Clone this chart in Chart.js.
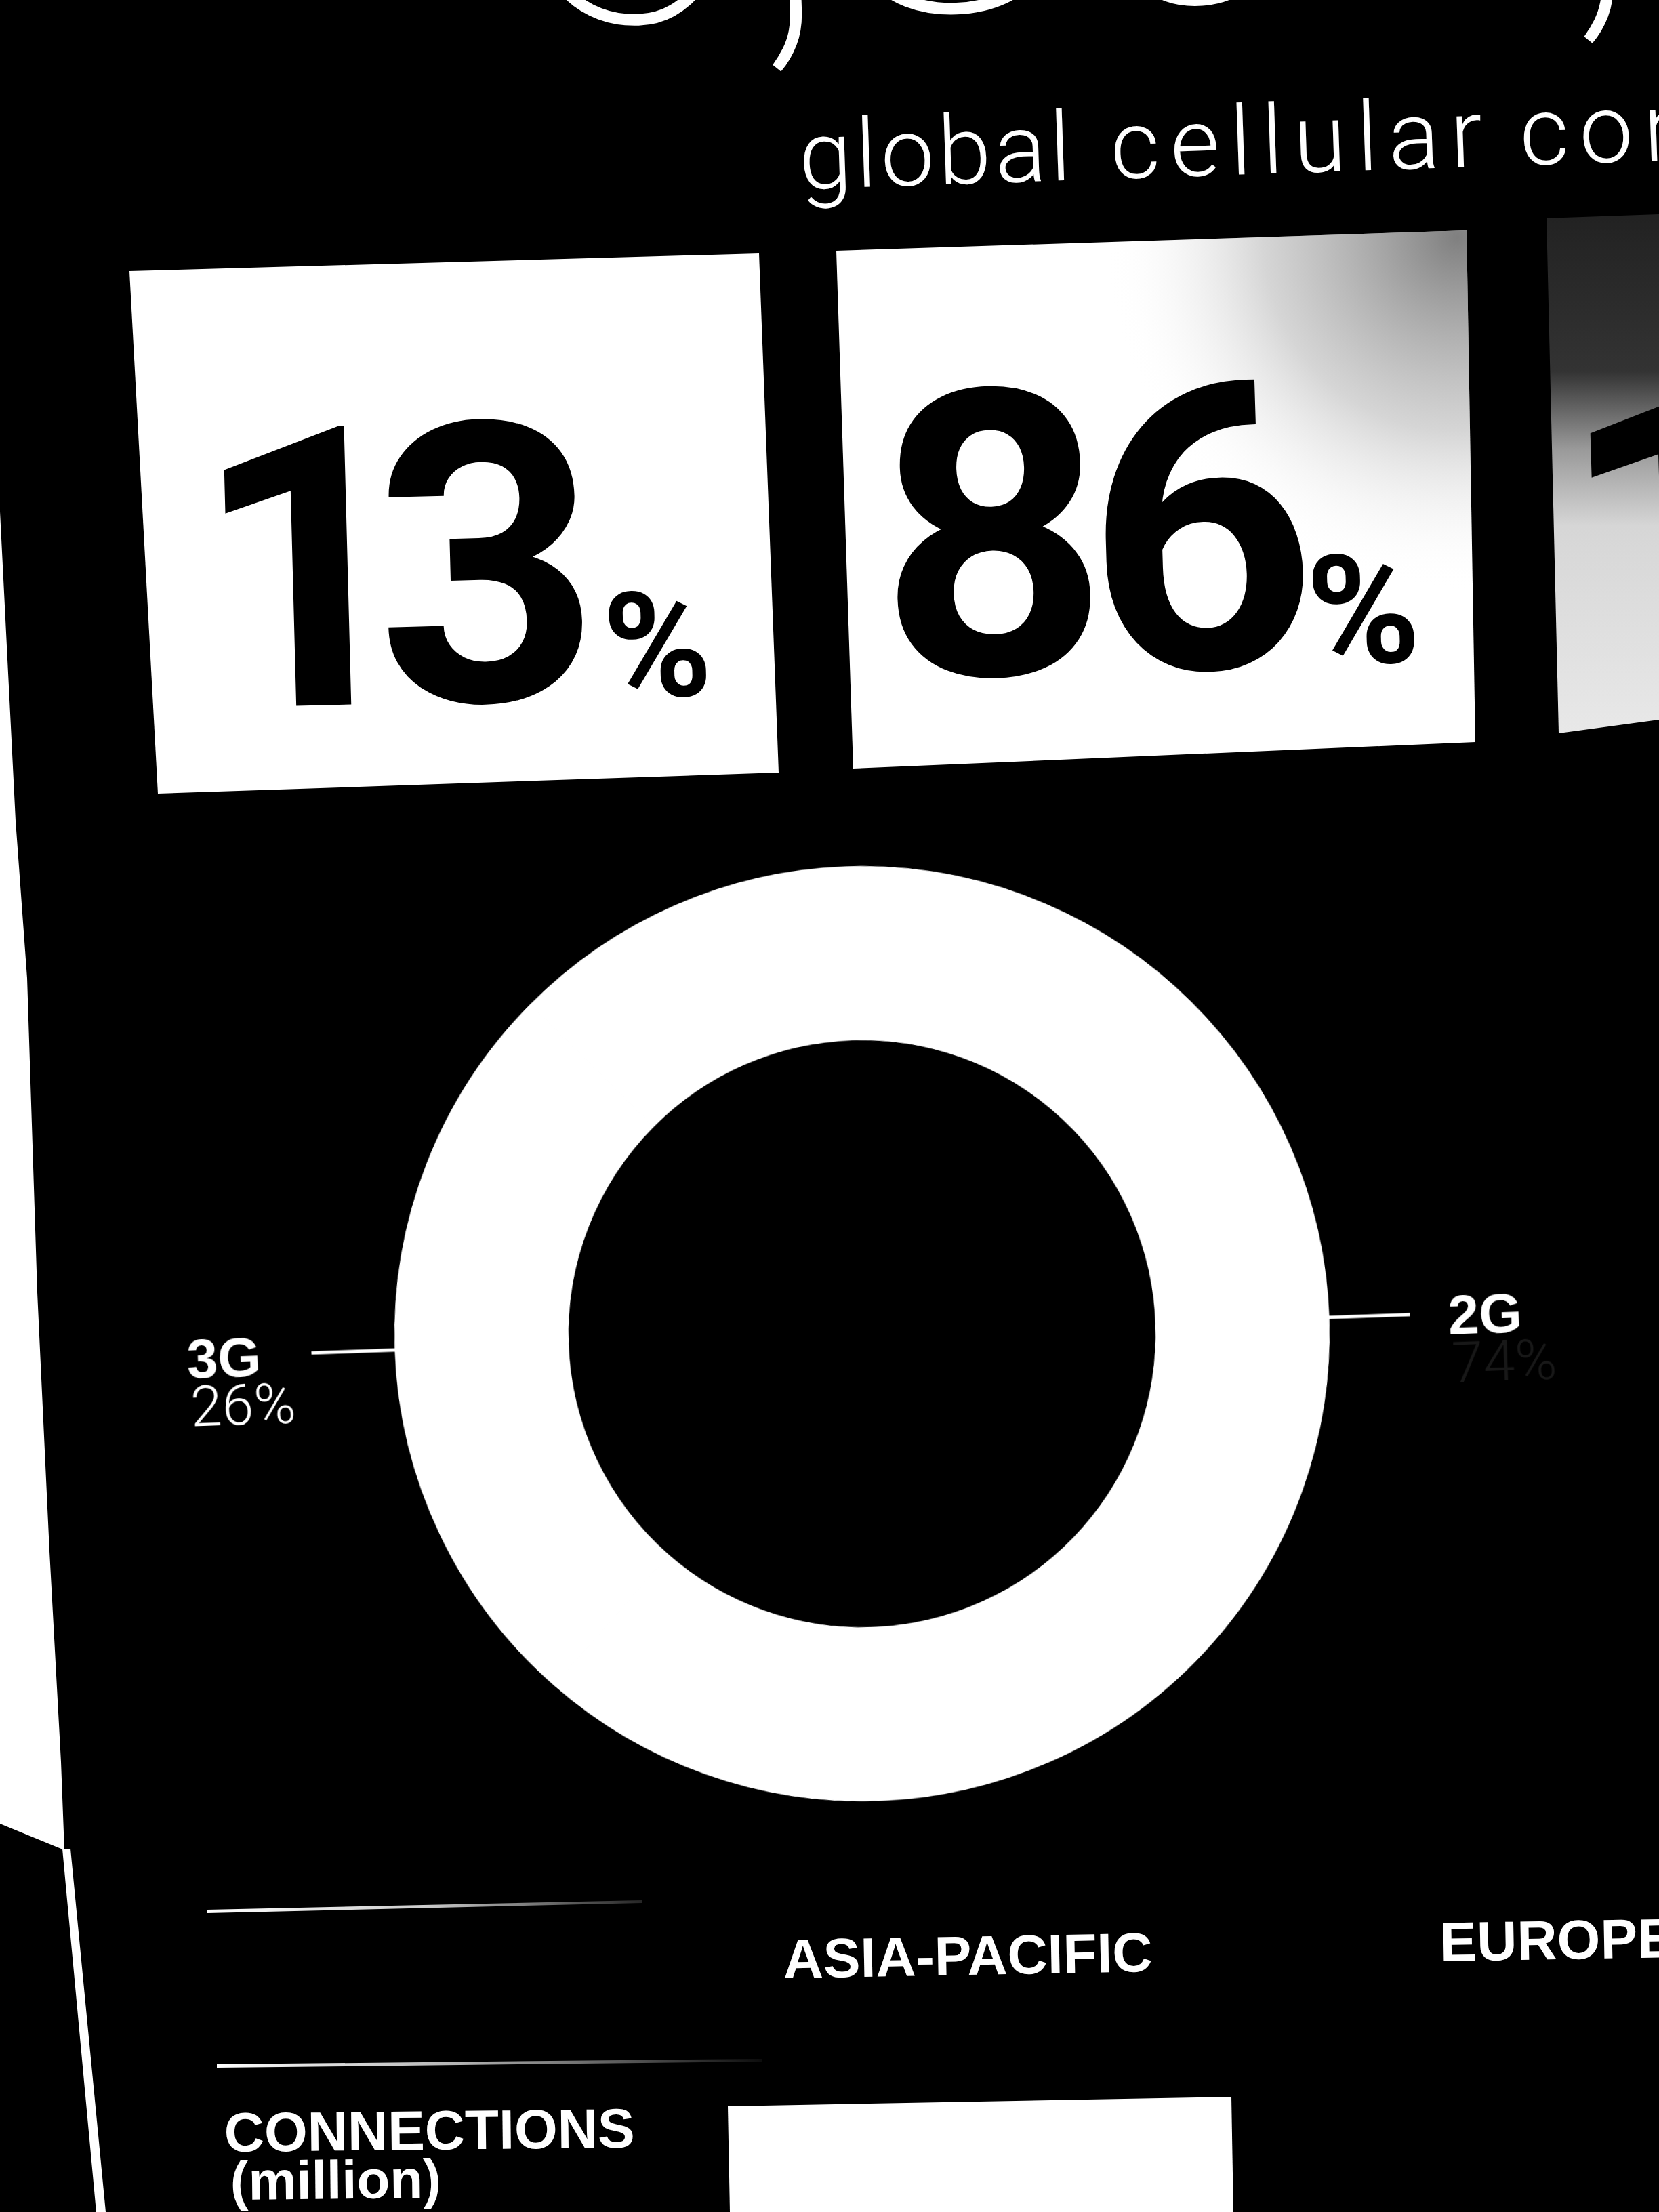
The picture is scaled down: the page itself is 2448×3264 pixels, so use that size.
<!DOCTYPE html>
<html>
<head>
<meta charset="utf-8">
<script src="https://cdn.jsdelivr.net/npm/chart.js@4.4.1/dist/chart.umd.min.js"></script>
<style>
html,body{margin:0;padding:0;background:#000;width:2448px;height:3264px;overflow:hidden}
#art{position:absolute;left:0;top:0}
#wrap{position:absolute;left:0;top:1100px;width:2448px;height:1750px;transform:rotate(-2deg);transform-origin:1272px 868px}
#ring{display:block}
</style>
</head>
<body>
<svg id="art" width="2448" height="3264" viewBox="0 0 2448 3264" xmlns="http://www.w3.org/2000/svg">
  <defs>
    <radialGradient id="glare2" gradientUnits="userSpaceOnUse" cx="2150" cy="350" r="520">
      <stop offset="0" stop-color="#555" stop-opacity="0.75"/>
      <stop offset="0.55" stop-color="#888" stop-opacity="0.35"/>
      <stop offset="1" stop-color="#fff" stop-opacity="0"/>
    </radialGradient>
    <linearGradient id="glare3" gradientUnits="userSpaceOnUse" x1="0" y1="320" x2="0" y2="1080">
      <stop offset="0" stop-color="#222"/>
      <stop offset="0.3" stop-color="#333"/>
      <stop offset="0.45" stop-color="#999"/>
      <stop offset="0.6" stop-color="#d6d6d6"/>
      <stop offset="1" stop-color="#e8e8e8"/>
    </linearGradient>
    <linearGradient id="fade1" gradientUnits="userSpaceOnUse" x1="306" y1="0" x2="947" y2="0">
      <stop offset="0" stop-color="#fff" stop-opacity="1"/>
      <stop offset="0.5" stop-color="#fff" stop-opacity="0.8"/>
      <stop offset="1" stop-color="#fff" stop-opacity="0.15"/>
    </linearGradient>
    <linearGradient id="fade2" gradientUnits="userSpaceOnUse" x1="320" y1="0" x2="1125" y2="0">
      <stop offset="0" stop-color="#fff" stop-opacity="1"/>
      <stop offset="0.45" stop-color="#fff" stop-opacity="0.7"/>
      <stop offset="1" stop-color="#fff" stop-opacity="0.05"/>
    </linearGradient>
  </defs>
  <g id="scene"></g>
</svg>
<div id="wrap"><canvas id="ring" width="2448" height="1750"></canvas></div>
<script>
// ---- data ----
const headline = '6,800,000,000';
const subtitleWords = ['global', 'cellular', 'connections'];
const tileValues = [13, 86, 1];
const tileUnit = '%';
const segLabels = ['3G', '2G'];
const segValues = [26, 74];
const regionLabels = ['ASIA-PACIFIC', 'EUROPE'];
const rowLabels = ['CONNECTIONS', '(million)'];

// ---- layout / styles ----
const NS = 'http://www.w3.org/2000/svg';
const scene = document.getElementById('scene');
const BOLD = "'Liberation Sans', Arial, Helvetica, sans-serif";
const TILE = "Roboto, Inter, 'Open Sans', sans-serif";
const THIN = "Roboto, Lato, Inter, 'Liberation Sans', sans-serif";

function el(tag, attrs, parent) {
  const e = document.createElementNS(NS, tag);
  for (const k in attrs) e.setAttribute(k, attrs[k]);
  (parent || scene).appendChild(e);
  return e;
}
function txt(str, attrs, parent) {
  const t = el('text', attrs, parent);
  t.textContent = str;
  return t;
}
function tspan(parent, str, attrs) {
  const s = document.createElementNS(NS, 'tspan');
  for (const k in attrs) s.setAttribute(k, attrs[k]);
  s.textContent = str;
  parent.appendChild(s);
  return s;
}

// background wall at left edge and poster edge
el('polygon', {points: '0,755 23,1211 40,1443 55,1907 73,2289 90,2600 95,2730 0,2691', fill: '#fff'});
el('polygon', {points: '92,2728 104,2728 156,3264 142,3264', fill: '#fff'});

// headline (cut by the top of the frame)
txt(headline, {x: 750, y: 38, 'font-family': THIN, 'font-weight': 100, 'font-size': 655,
  fill: '#fff', transform: 'rotate(-2 750 38)'});

// subtitle
const subPos = [{x: 1180, ls: 5}, {x: 1640, ls: 15}, {x: 2244, ls: 15}];
const sub = el('text', {y: 279, 'font-family': THIN, 'font-weight': 300, 'font-size': 142,
  fill: '#fff', transform: 'rotate(-1.9 1180 279)'});
subtitleWords.forEach((w, i) => {
  tspan(sub, w + (i < subtitleWords.length - 1 ? ' ' : ''), {x: subPos[i].x, 'letter-spacing': subPos[i].ls});
});

// stat tiles
const tileBoxes = [
  '191,400 1120,374 1149,1140 233,1171',
  '1234,370 2164,340 2177,1095 1259,1134',
  '2282,322 2448,316 2448,1062 2300,1082'
];
const tileFills = ['#fff', '#fff', 'url(#glare3)'];
const tileText = [
  {cx: [458, 724], y: 1041, size: 577, pcx: 972, psize: 217, rot: -1.5},
  {cx: [1470, 1778], y: 995, size: 590, pcx: 2014, psize: 226, rot: -1.7},
  {cx: [2478], y: 994, size: 590, pcx: 2800, psize: 226, rot: -1.7}
];
tileValues.forEach((v, i) => {
  el('polygon', {points: tileBoxes[i], fill: tileFills[i]});
  if (i === 1) el('polygon', {points: tileBoxes[i], fill: 'url(#glare2)'});
  const L = tileText[i];
  const t = el('text', {y: L.y, 'font-family': TILE, 'font-weight': 700,
    'font-size': L.size, 'text-anchor': 'middle', fill: '#000',
    transform: `rotate(${L.rot} ${L.cx[0]} ${L.y})`});
  String(v).split('').forEach((d, k) => tspan(t, d, {x: L.cx[k]}));
  tspan(t, tileUnit, {x: L.pcx, 'font-size': L.psize});
});

// table header area
el('polygon', {points: '306,2818 947,2804 947,2808 306,2823', fill: 'url(#fade1)'});
el('polygon', {points: '320,3046 1125,3038 1125,3042 320,3051', fill: 'url(#fade2)'});
const regionPos = [{x: 1156, y: 2919, rot: -1.05}, {x: 2125, y: 2894, rot: -1.0}];
regionLabels.forEach((r, i) => {
  const p = regionPos[i];
  txt(r, {x: p.x, y: p.y, 'font-family': BOLD, 'font-weight': 700, 'font-size': 82,
    fill: '#fff', transform: `rotate(${p.rot} ${p.x} ${p.y})`});
});
const rowPos = [{x: 331, y: 3175, size: 82}, {x: 340, y: 3246, size: 80}];
rowLabels.forEach((r, i) => {
  const p = rowPos[i];
  txt(r, {x: p.x, y: p.y, 'font-family': BOLD, 'font-weight': 700, 'font-size': p.size,
    fill: '#fff', transform: `rotate(-0.6 ${p.x} ${p.y})`});
});
el('polygon', {points: '1074,3108 1817,3094 1820,3264 1077,3264', fill: '#fff'});

// ---- doughnut ----
const total = segValues.reduce((a, b) => a + b, 0);
const pctColors = ['#ffffff', '#181818'];
const leaderPlugin = {
  id: 'leaderLabels',
  afterDatasetsDraw(chart) {
    const ctx = chart.ctx;
    const meta = chart.getDatasetMeta(0);
    meta.data.forEach((arc, i) => {
      const p = arc.getProps(['x', 'y', 'startAngle', 'endAngle', 'outerRadius'], true);
      const mid = (p.startAngle + p.endAngle) / 2;
      const left = Math.cos(mid) < 0;
      const cx = p.x + Math.cos(mid) * p.outerRadius;
      const cy = p.y + Math.sin(mid) * p.outerRadius;
      const ex = cx + (left ? -124 : 120);
      ctx.save();
      ctx.strokeStyle = '#fff';
      ctx.lineWidth = 5;
      ctx.beginPath();
      ctx.moveTo(cx + (left ? 3 : -3), cy);
      ctx.lineTo(ex, cy);
      ctx.stroke();
      const tx = left ? ex - 184 : ex + 56;
      ctx.textAlign = 'left';
      ctx.textBaseline = 'alphabetic';
      ctx.fillStyle = '#fff';
      ctx.font = "bold 82px 'Liberation Sans', Arial, sans-serif";
      ctx.fillText(segLabels[i], tx, cy + 31);
      ctx.fillStyle = pctColors[i];
      ctx.font = "300 84px Roboto, Lato, 'Liberation Sans', sans-serif";
      ctx.fillText(Math.round(segValues[i] / total * 100) + '%', tx + 3, cy + 102);
      ctx.restore();
    });
  }
};

new Chart(document.getElementById('ring'), {
  type: 'doughnut',
  data: {
    labels: segLabels,
    datasets: [{
      data: segValues,
      backgroundColor: ['#ffffff', '#ffffff'],
      borderColor: '#ffffff',
      borderWidth: 2,
      hoverOffset: 0
    }]
  },
  options: {
    responsive: false,
    animation: false,
    devicePixelRatio: 1,
    events: [],
    cutout: '63%',
    rotation: 270 - 180 * segValues[0] / total,
    layout: {padding: {left: 582, right: 486, top: 178, bottom: 192}},
    plugins: {legend: {display: false}, tooltip: {enabled: false}}
  },
  plugins: [leaderPlugin]
});
</script>
</body>
</html>
